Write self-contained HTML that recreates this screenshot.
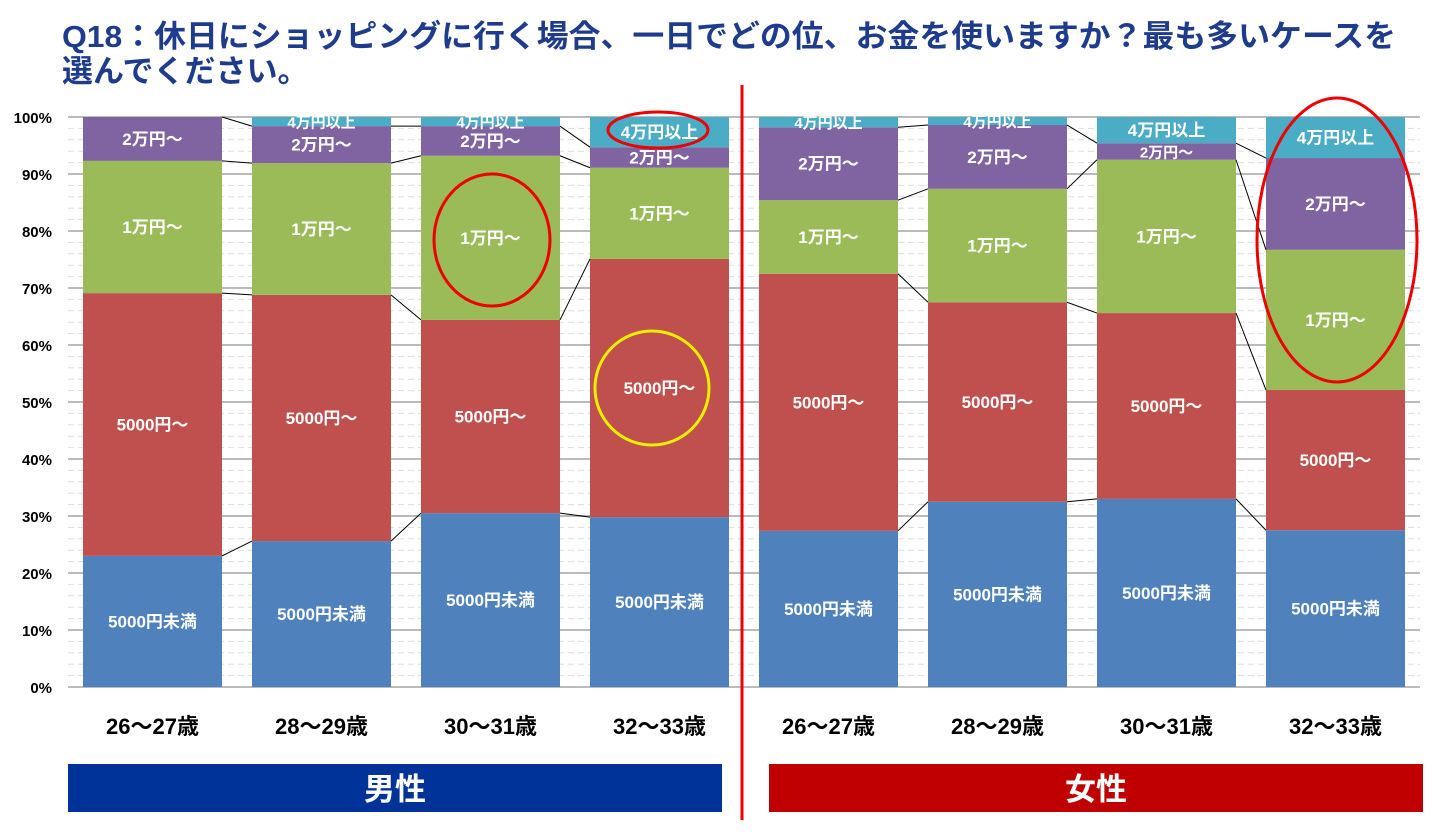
<!DOCTYPE html>
<html><head><meta charset="utf-8"><style>
body{margin:0;background:#fff;width:1440px;height:832px;overflow:hidden;font-family:"Liberation Sans","Noto Sans CJK JP",sans-serif}
</style></head><body>
<svg width="1440" height="832" id="svg" xmlns="http://www.w3.org/2000/svg" font-family="Liberation Sans, Noto Sans CJK JP, sans-serif">
<text x="62" y="47" font-size="31" font-weight="bold" fill="#1f3c8c" textLength="1334" lengthAdjust="spacingAndGlyphs">Q18：休日にショッピングに行く場合、一日でどの位、お金を使いますか？最も多いケースを</text>
<text x="62" y="82" font-size="31" font-weight="bold" fill="#1f3c8c">選んでください。</text>
<g id="grid"></g><g id="bars"></g><g id="conn"></g><g id="labels"></g>
<rect x="68" y="764" width="654" height="48" fill="#003399"/>
<text x="395" y="800" font-size="31" font-weight="bold" fill="#fff" text-anchor="middle">男性</text>
<rect x="769" y="764" width="654" height="48" fill="#c00000"/>
<text x="1096" y="800" font-size="31" font-weight="bold" fill="#fff" text-anchor="middle">女性</text>
<line x1="742" y1="85" x2="742" y2="820" stroke="#e00" stroke-width="3"/>
<ellipse cx="658" cy="130" rx="50" ry="18" fill="none" stroke="#e00" stroke-width="3"/>
<ellipse cx="492" cy="240" rx="58" ry="66" fill="none" stroke="#e00" stroke-width="3"/>
<circle cx="652" cy="388" r="57" fill="none" stroke="#ee0" stroke-width="3"/>
<ellipse cx="1337" cy="240" rx="80" ry="142" fill="none" stroke="#e00" stroke-width="3"/>
</svg>
<script>
const categories=["26～27歳","28～29歳","30～31歳","32～33歳","26～27歳","28～29歳","30～31歳","32～33歳"];
const seriesNames=["5000円未満","5000円～","1万円～","2万円～","4万円以上"];
const s0=[23.0,25.6,30.5,29.8,27.4,32.5,33.0,27.5];
const s1=[46.1,43.2,33.9,45.3,45.1,35.0,32.6,24.6];
const s2=[23.2,23.1,28.8,16.0,12.9,19.9,26.9,24.6];
const s3=[7.7,6.5,5.2,3.6,12.8,11.2,2.9,16.1];
const s4=[0,1.6,1.6,5.3,1.8,1.4,4.6,7.2];
const yTicks=["0%","10%","20%","30%","40%","50%","60%","70%","80%","90%","100%"];
const colors=["#4f81bd","#c0504d","#9bbb59","#8064a2","#4bacc6"];
const series=[s0,s1,s2,s3,s4];
const NS="http://www.w3.org/2000/svg";
const y=v=>687-v*5.7, x=i=>83+i*169, bw=139;
function mk(t,a,p){const e=document.createElementNS(NS,t);for(const k in a)e.setAttribute(k,a[k]);p.appendChild(e);return e;}
const G=document.getElementById('grid'),B=document.getElementById('bars'),C=document.getElementById('conn'),L=document.getElementById('labels');
for(let v=0;v<=100;v+=2){const major=v%10==0;
 const l=mk('line',{x1:68,x2:1420,y1:y(v),y2:y(v),stroke:major?'#bbb':'#ddd','stroke-width':major?2:1,'stroke-dasharray':major?'':'6 4'},G);
 }
yTicks.forEach((t,i)=>{const e=mk('text',{x:52,y:y(i*10)+6,'font-size':15,'font-weight':'bold','text-anchor':'end',fill:'#000'},G);e.textContent=t;
 });
categories.forEach((c,i)=>{let cum=0;
 const e=mk('text',{x:x(i)+bw/2,y:734,'font-size':22,'font-weight':'bold','text-anchor':'middle',fill:'#000'},L);e.textContent=c;
 
 series.forEach((s,k)=>{const v=s[i];if(v<=0){return;}
  const r=mk('rect',{x:x(i),y:y(cum+v),width:bw,height:v*5.7,fill:colors[k]},B);
  
  const t=mk('text',{x:x(i)+bw/2,y:y(cum+v/2)+6,'font-size':v<3?15:17,'font-weight':'bold','text-anchor':'middle',fill:'#fff'},L);t.textContent=seriesNames[k];
  
  cum+=v;});
});
for(let i=0;i<7;i++){if(i==3)continue;let c1=0,c2=0;
 for(let k=0;k<4;k++){c1+=series[k][i];c2+=series[k][i+1];
  const l=mk('line',{x1:x(i)+bw,y1:y(c1),x2:x(i+1),y2:y(c2),stroke:'#000','stroke-width':1},C);
  }}
</script>
</body></html>
